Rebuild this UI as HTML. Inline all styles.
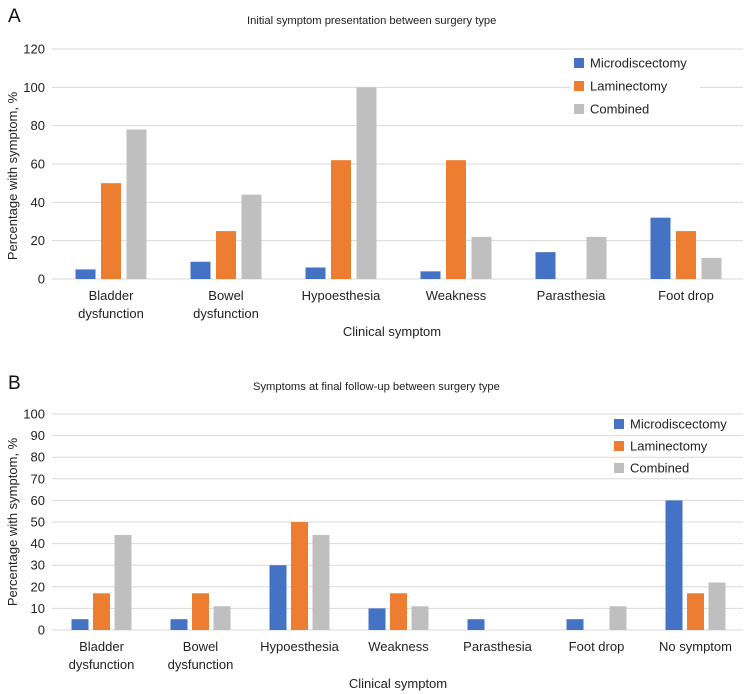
<!DOCTYPE html>
<html><head><meta charset="utf-8"><style>
html,body{margin:0;padding:0;background:#fff;}
svg{display:block;font-family:"Liberation Sans",Arial,sans-serif;}
</style></head><body>
<svg id="fig" width="745" height="694" viewBox="0 0 745 694"></svg>
<script>
const catsA = [["Bladder","dysfunction"],["Bowel","dysfunction"],["Hypoesthesia"],["Weakness"],["Parasthesia"],["Foot drop"]];
const microA = [5, 9, 6, 4, 14, 32];
const lamA = [50, 25, 62, 62, 0, 25];
const combA = [78, 44, 100, 22, 22, 11];
const ticksA = [0, 20, 40, 60, 80, 100, 120];

const catsB = [["Bladder","dysfunction"],["Bowel","dysfunction"],["Hypoesthesia"],["Weakness"],["Parasthesia"],["Foot drop"],["No symptom"]];
const microB = [5, 5, 30, 10, 5, 5, 60];
const lamB = [17, 17, 50, 17, 0, 0, 17];
const combB = [44, 11, 44, 11, 0, 11, 22];
const ticksB = [0, 10, 20, 30, 40, 50, 60, 70, 80, 90, 100];

const seriesNames = ["Microdiscectomy", "Laminectomy", "Combined"];
const colors = ["#4472c4", "#ed7d31", "#bfbfbf"];

const NS = "http://www.w3.org/2000/svg";
const svg = document.getElementById("fig");
function mk(tag, attrs, parent) {
  const e = document.createElementNS(NS, tag);
  for (const k in attrs) e.setAttribute(k, attrs[k]);
  (parent || svg).appendChild(e);
  return e;
}
function txt(s, attrs, parent) { const t = mk("text", attrs, parent); t.textContent = s; return t; }

function drawChart(o) {
  const g = mk("g", {});
  
  
  const y = v => o.y0 - (v / o.ymax) * (o.y0 - o.yTop);
  const x = i => o.x0 + o.step * (i + 0.5);
  const L = txt(o.letter, {x: 8, y: o.letterY, "font-size": 19, fill: "#111"}, g);
  
  
  const T = txt(o.title, {x: o.titleX, y: o.titleY, "font-size": 11.2, fill: "#222"}, g);
  
  
  o.ticks.forEach(v => {
    const ln = mk("line", {x1: 52, x2: 743, y1: y(v), y2: y(v), stroke: "#d9d9d9", "stroke-width": 1}, g);
    
    
    const tl = txt(String(v), {x: 45, y: y(v) + 4.5, "font-size": 13, "text-anchor": "end", fill: "#222"}, g);
    
    
  });
  o.series.forEach((arr, s) => {
    arr.forEach((v, i) => {
      if (v <= 0) return;
      const cx = x(i) + (s - 1) * o.off;
      const r = mk("rect", {x: cx - o.bw / 2, y: y(v), width: o.bw, height: o.y0 - y(v), fill: colors[s]}, g);
      
      
    });
  });
  o.cats.forEach((c, i) => {
    c.forEach((line, j) => {
      const cl = txt(line, {x: x(i), y: o.y0 + 21 + j * 18, "font-size": 13, "text-anchor": "middle", fill: "#222"}, g);
      
      
    });
  });
  const xt = txt("Clinical symptom", {x: o.xTitleX, y: o.xTitleY, "font-size": 13, "text-anchor": "middle", fill: "#222"}, g);
  
  
  const yt = txt("Percentage with symptom, %", {x: 0, y: 0, "font-size": 13, "text-anchor": "middle", fill: "#222", transform: "translate(17," + o.yTitleY + ") rotate(-90)"}, g);
  
  
  seriesNames.forEach((n, s) => {
    const ly = o.legY + s * o.legGap;
    const bg = mk("rect", {x: o.legX - 4, y: ly - 9, width: 130, height: 18, fill: "#fff"}, g);
    
    
    const sq = mk("rect", {x: o.legX, y: ly - 5, width: 10, height: 10, fill: colors[s]}, g);
    
    
    const lt = txt(n, {x: o.legX + 16, y: ly + 4.5, "font-size": 13, fill: "#222"}, g);
    
    
  });
}

drawChart({name: "chart-a", letter: "A", letterY: 22, title: "Initial symptom presentation between surgery type",
  titleX: 247, titleY: 24, y0: 279, yTop: 49, ymax: 120, ticks: ticksA, x0: 53.5, step: 115,
  bw: 20, off: 25.5, series: [microA, lamA, combA], cats: catsA,
  xTitleX: 392, xTitleY: 336, yTitleY: 176, legX: 574, legY: 63, legGap: 23});

drawChart({name: "chart-b", letter: "B", letterY: 389, title: "Symptoms at final follow-up between surgery type",
  titleX: 253, titleY: 390, y0: 630, yTop: 414, ymax: 100, ticks: ticksB, x0: 52, step: 99,
  bw: 17, off: 21.5, series: [microB, lamB, combB], cats: catsB,
  xTitleX: 398, xTitleY: 688, yTitleY: 522, legX: 614, legY: 424, legGap: 22});
</script>
</body></html>
